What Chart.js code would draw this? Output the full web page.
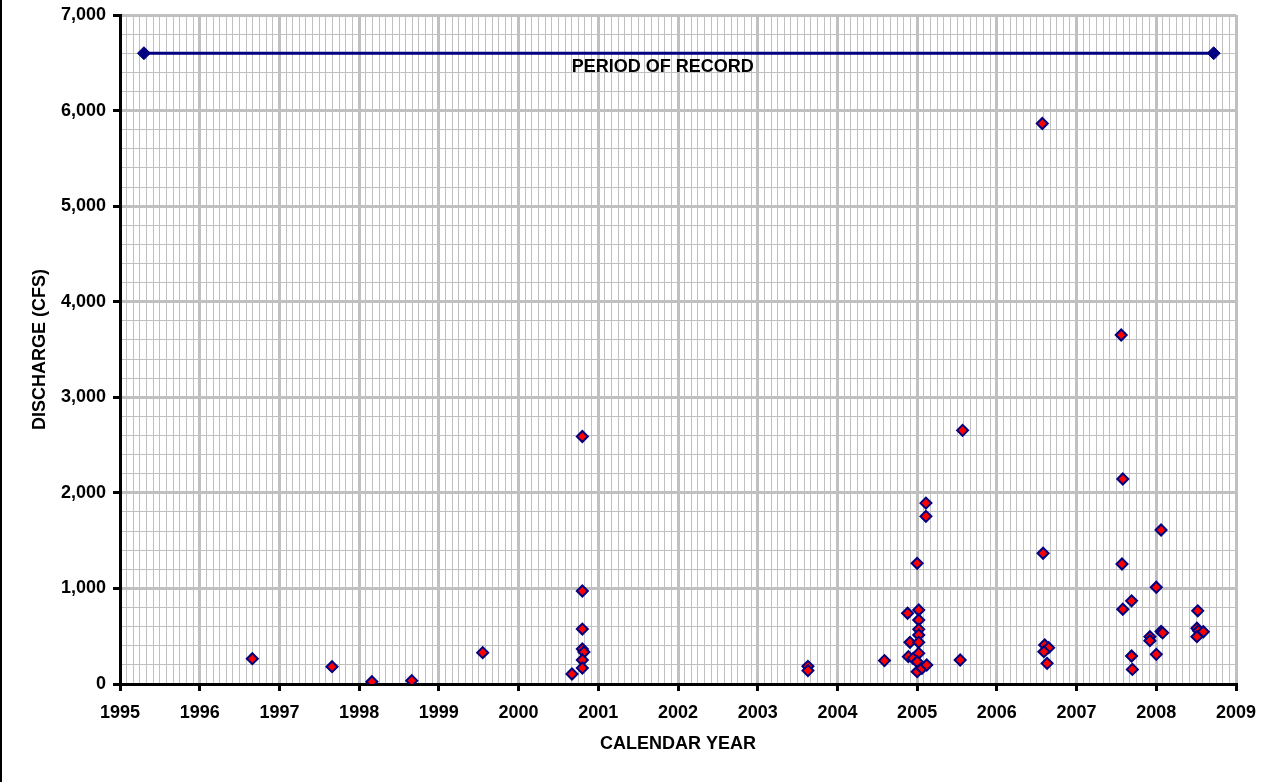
<!DOCTYPE html>
<html>
<head>
<meta charset="utf-8">
<script src="https://cdn.jsdelivr.net/npm/chart.js@4/dist/chart.umd.min.js"></script>
<style>
  body { margin: 0; background: #fff; }
</style>
</head>
<body>
<canvas id="myChart" width="1279" height="782"></canvas>
<script>
// measured discharges (decimal year, cfs)
var obsYears = [
  1996.66, 1997.66, 1998.16, 1998.66, 1999.55,
  2000.67, 2000.80, 2000.80, 2000.80, 2000.80, 2000.82, 2000.80, 2000.80,
  2003.63, 2003.63, 2004.59,
  2004.88, 2004.91, 2004.89, 2004.95,
  2005.00, 2005.02, 2005.02, 2005.02, 2005.02, 2005.02, 2005.02, 2005.00, 2005.00, 2005.06, 2005.12, 2005.11, 2005.11,
  2005.54, 2005.57,
  2006.57, 2006.58, 2006.60, 2006.65, 2006.59, 2006.63,
  2007.56, 2007.58, 2007.57, 2007.58, 2007.69, 2007.69, 2007.70,
  2007.92, 2007.92, 2008.00, 2008.00, 2008.06, 2008.06, 2008.08,
  2008.52, 2008.51, 2008.53, 2008.59, 2008.51
];
var obsFlows = [
  265, 181, 24, 35, 328,
  105, 2590, 973, 575, 366, 335, 251, 167,
  185, 140, 245,
  740, 436, 286, 268,
  1263, 774, 670, 572, 513, 436, 321, 233, 129, 164, 199, 1893, 1754,
  251, 2654,
  5865, 1368, 408, 380, 338, 216,
  3652, 2145, 1256, 782, 870, 293, 153,
  495, 453, 1012, 310, 1611, 550, 535,
  766, 583, 558, 547, 495
];

// period of record bar
var periodYears = [1995.3, 2008.72];
var periodFlows = [6600, 6600];
var periodLabel = 'PERIOD OF RECORD';
var periodLabelAt = [2001.81, 6460];

// axes
var yearLabels = [1995, 1996, 1997, 1998, 1999, 2000, 2001, 2002, 2003, 2004, 2005, 2006, 2007, 2008, 2009];
var flowLabels = [0, 1000, 2000, 3000, 4000, 5000, 6000, 7000];
var monthsPerYear = 12;
var flowMinorStep = 200;

var fontFam = 'Arial, "Liberation Sans", sans-serif';
var navy = '#000080';

var minorX = [];
for (var i = 0; i <= (yearLabels.length - 1) * monthsPerYear; i++) {
  minorX.push(yearLabels[0] + i / monthsPerYear);
}
var minorY = [];
for (var v = flowLabels[0]; v <= flowLabels[flowLabels.length - 1]; v += flowMinorStep) {
  minorY.push(v);
}

function isMajorX(v) { return Math.abs(v - Math.round(v)) < 1e-6; }
function isMajorY(v) { return Math.abs(v % 1000) < 1e-6; }

var obsPoints = obsYears.map(function (x, i) { return {x: x, y: obsFlows[i]}; });
var periodPoints = periodYears.map(function (x, i) { return {x: x, y: periodFlows[i]}; });

var extras = {
  id: 'extras',
  afterDatasetsDraw: function (chart) {
    var c = chart.ctx;
    var px = chart.scales.x.getPixelForValue(periodLabelAt[0]);
    var py = chart.scales.y.getPixelForValue(periodLabelAt[1]);
    c.save();
    c.font = 'bold 18px ' + fontFam;
    c.fillStyle = '#000';
    c.textAlign = 'center';
    c.textBaseline = 'middle';
    c.fillText(periodLabel, px, py);
    c.fillRect(0, 0, 2, chart.height);
    c.restore();
  }
};

const ctx = document.getElementById('myChart');

new Chart(ctx, {
  type: 'scatter',
  data: {
    datasets: [{
      label: 'Discharge',
      data: obsPoints,
      pointStyle: 'rectRot',
      pointRadius: 5.5,
      pointBackgroundColor: '#ff0000',
      pointBorderColor: navy,
      pointBorderWidth: 2,
      showLine: false
    }, {
      label: 'Period of record',
      data: periodPoints,
      showLine: true,
      borderColor: navy,
      borderWidth: 3,
      pointStyle: 'rectRot',
      pointRadius: 6.5,
      pointBackgroundColor: navy,
      pointBorderColor: navy,
      pointBorderWidth: 1
    }]
  },
  options: {
    responsive: false,
    animation: false,
    layout: { padding: { top: 15, right: 43, bottom: 0, left: 0 } },
    plugins: { legend: { display: false }, tooltip: { enabled: false } },
    scales: {
      x: {
        type: 'linear',
        min: yearLabels[0],
        max: yearLabels[yearLabels.length - 1],
        afterBuildTicks: function (s) { s.ticks = minorX.map(function (v) { return {value: v}; }); },
        afterFit: function (s) { s.height = 98; },
        ticks: {
          autoSkip: false, maxRotation: 0, padding: 11, color: '#000',
          font: { family: fontFam, size: 18, weight: 'bold' },
          callback: function (v) { return isMajorX(v) ? String(Math.round(v)) : ''; }
        },
        grid: {
          color: '#c0c0c0',
          lineWidth: function (c) { return c.tick && isMajorX(c.tick.value) ? 3 : 1; },
          tickLength: 7,
          tickWidth: 3,
          tickColor: function (c) { return c.tick && isMajorX(c.tick.value) ? '#000' : 'rgba(0,0,0,0)'; }
        },
        border: { color: '#000', width: 3 },
        title: {
          display: true, text: 'CALENDAR YEAR', color: '#000',
          font: { family: fontFam, size: 18, weight: 'bold' },
          padding: { top: 0, bottom: 27 }
        }
      },
      y: {
        min: flowLabels[0],
        max: flowLabels[flowLabels.length - 1],
        afterBuildTicks: function (s) { s.ticks = minorY.map(function (v) { return {value: v}; }); },
        afterFit: function (s) { s.width = 120; s.paddingTop = 0; s.paddingBottom = 0; },
        ticks: {
          autoSkip: false, padding: 7, color: '#000',
          font: { family: fontFam, size: 18, weight: 'bold' },
          callback: function (v) { return isMajorY(v) ? v.toLocaleString('en-US') : ''; }
        },
        grid: {
          color: '#c0c0c0',
          lineWidth: function (c) { return c.tick && isMajorY(c.tick.value) ? 3 : 1; },
          tickLength: 7,
          tickWidth: 3,
          tickColor: function (c) { return c.tick && isMajorY(c.tick.value) ? '#000' : 'rgba(0,0,0,0)'; }
        },
        border: { color: '#000', width: 3 },
        title: {
          display: true, text: 'DISCHARGE (CFS)', color: '#000',
          font: { family: fontFam, size: 18, weight: 'bold' },
          padding: { top: 29, bottom: 0 }
        }
      }
    }
  },
  plugins: [extras]
});
</script>
</body>
</html>
